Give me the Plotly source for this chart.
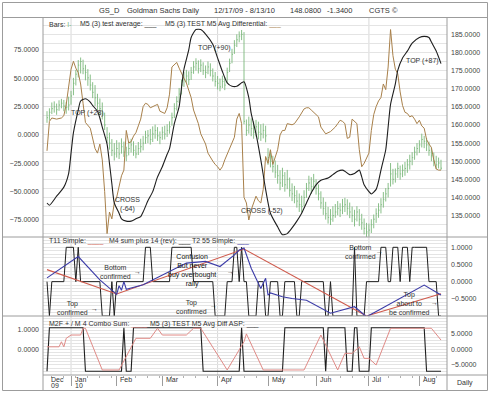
import plotly.graph_objects as go
import pandas as pd

W, H = 490, 393
FONT = "Liberation Sans, Arial, Helvetica, sans-serif"
TXT = "#333333"
GRID = "#e4e4e4"
FRAME = "#9c9c9c"

# ---------------- trading calendar ----------------
HOLIDAYS = ["2009-12-25", "2010-01-01", "2010-01-18", "2010-02-15",
            "2010-04-02", "2010-05-31", "2010-07-05"]
DATES = pd.bdate_range("2009-12-17", "2010-08-13")
DATES = DATES[~DATES.isin(pd.to_datetime(HOLIDAYS))]
DAY = list(range(len(DATES)))

MONTH_LABELS = ["Dec", "Jan", "Feb", "Mar", "Apr", "May", "Jun", "Jul", "Aug"]
YEAR_LABELS = ["09", "10"]

# ---------------- price bars (right axis) ----------------
CLOSE = [
    162.0, 163.5, 164.5, 165.0, 164.2, 165.5, 166.0, 165.2, 164.8, 165.5,
    168.0, 171.5, 174.0, 176.5, 177.5, 175.5, 174.5, 173.0, 171.0, 169.0,
    167.5, 166.0, 164.5, 163.0, 160.0, 156.5, 155.0, 153.0, 152.0, 153.5,
    152.0, 154.0, 152.5, 151.5, 153.5, 154.5, 153.0, 152.0, 153.5, 154.0,
    155.0, 156.5, 157.0, 156.0, 157.5, 158.5, 157.0, 156.5, 158.0, 157.5,
    158.5, 159.5, 162.0, 164.5, 166.5, 168.5, 171.0, 172.5, 173.5, 172.5,
    174.5, 176.0, 177.0, 175.5, 176.5, 175.0, 174.5, 176.0, 175.0, 173.5,
    172.0, 171.5, 170.5, 172.0, 171.0, 174.5, 177.0, 179.5, 182.0, 183.5,
    184.5, 185.0, 161.0, 158.5, 160.0, 159.0, 158.0, 159.5, 158.0, 157.5,
    158.5, 157.0, 151.0, 150.0, 148.5, 147.0, 146.0, 144.0, 146.0, 143.5,
    145.0, 142.0, 141.0, 140.5, 139.0, 138.0, 137.5, 140.0, 142.5, 144.0,
    143.0, 144.5, 142.5, 141.0, 138.5, 137.0, 135.5, 134.5, 134.0, 135.0,
    136.0, 137.0, 136.5, 137.5, 138.0, 137.0, 136.0, 135.0, 134.0, 136.0,
    134.0, 133.0, 131.5, 130.5, 131.0, 132.5, 134.0, 135.5, 136.5, 138.0,
    139.5, 141.0, 142.5, 146.5, 145.0, 146.5, 148.0, 146.5, 147.5, 148.0,
    149.0, 150.0, 151.0, 152.5, 153.5, 154.5, 156.0, 155.5, 154.5, 153.0,
    151.5, 150.0, 149.0, 149.5, 148.08]
HIGH = [
    163.8, 164.6, 166.2, 166.5, 165.9, 166.8, 167.2, 166.9, 166.3, 167.8,
    169.4, 173.0, 175.2, 177.9, 178.6, 178.0, 176.6, 175.4, 173.9, 171.8,
    171.0, 168.6, 167.3, 166.2, 163.4, 159.4, 157.9, 156.1, 155.0, 155.8,
    155.2, 156.3, 155.4, 154.0, 155.6, 156.2, 155.5, 154.4, 155.3, 156.2,
    157.0, 158.4, 158.6, 158.9, 159.6, 160.1, 159.4, 158.2, 159.5, 159.8,
    160.2, 161.0, 163.4, 166.0, 167.9, 170.2, 172.5, 174.6, 175.2, 174.8,
    176.0, 177.6, 178.4, 177.8, 178.1, 177.3, 176.4, 177.5, 177.0, 175.6,
    174.6, 173.5, 172.8, 173.6, 173.2, 175.8, 178.3, 181.0, 183.4, 185.0,
    185.8, 186.2, 185.6, 161.5, 162.3, 161.8, 161.0, 161.4, 160.9, 160.2,
    160.4, 159.8, 153.6, 152.7, 151.5, 150.2, 149.0, 147.5, 148.2, 147.0,
    147.6, 145.5, 143.9, 143.2, 142.0, 141.1, 140.5, 142.0, 144.0, 146.0,
    145.6, 146.5, 145.0, 143.6, 141.7, 140.0, 138.8, 137.4, 136.8, 137.6,
    138.2, 139.0, 138.4, 139.6, 139.9, 139.5, 138.6, 137.5, 136.6, 137.6,
    136.8, 135.5, 134.2, 133.0, 132.8, 134.0, 135.3, 137.0, 138.4, 139.8,
    141.5, 142.6, 144.0, 149.5, 147.9, 148.0, 149.6, 148.8, 149.1, 149.8,
    150.6, 151.8, 152.5, 154.0, 155.0, 155.8, 157.6, 157.0, 156.4, 155.4,
    153.8, 152.4, 151.5, 151.0, 150.4]
LOW = [
    160.6, 161.2, 163.0, 163.4, 162.8, 163.9, 164.6, 163.8, 163.1, 164.0,
    165.6, 168.2, 170.9, 173.1, 174.2, 174.0, 172.3, 170.8, 169.5, 167.4,
    165.2, 164.1, 162.8, 161.5, 158.6, 155.0, 153.2, 151.4, 150.2, 151.0,
    150.6, 152.1, 151.2, 150.0, 151.6, 152.4, 151.5, 150.8, 151.7, 152.4,
    153.0, 154.8, 155.0, 154.6, 155.3, 156.2, 155.6, 154.7, 155.9, 156.0,
    156.7, 157.6, 159.8, 161.9, 164.0, 166.1, 168.4, 170.5, 171.6, 171.0,
    172.4, 174.1, 175.0, 174.2, 174.6, 173.8, 172.9, 174.0, 173.4, 172.0,
    170.6, 169.8, 169.3, 170.2, 169.6, 171.5, 174.6, 177.0, 179.6, 181.5,
    182.8, 183.4, 160.2, 157.0, 157.6, 156.9, 156.2, 156.8, 156.0, 155.6,
    156.3, 155.2, 149.0, 148.3, 146.9, 145.4, 143.8, 142.0, 142.9, 141.6,
    142.3, 140.2, 139.0, 138.4, 137.2, 136.0, 135.8, 137.6, 139.9, 141.8,
    141.0, 142.2, 140.8, 139.2, 136.9, 135.2, 133.9, 132.8, 132.4, 133.3,
    134.4, 135.1, 134.6, 135.4, 136.0, 135.2, 134.3, 133.2, 132.0, 133.4,
    132.1, 131.1, 129.8, 129.0, 129.2, 130.2, 131.5, 133.0, 134.4, 135.6,
    137.2, 138.9, 140.0, 143.0, 143.6, 144.1, 145.4, 144.9, 145.6, 146.0,
    146.8, 147.7, 148.9, 150.4, 151.6, 152.3, 153.8, 153.6, 152.8, 151.5,
    150.0, 148.6, 147.8, 148.0, 147.6]

# ---------------- top panel oscillators (left axis) ----------------
AVG_DAY = [0, 1, 4, 7, 9, 10, 11, 13, 14, 16, 18, 19, 21, 22, 23, 25, 26, 27, 28, 30,
           31, 33, 35, 37, 39, 40, 42, 44, 46, 48, 50, 51, 53, 55, 56, 57, 59, 60, 62, 64,
           66, 69, 71, 73, 75, 77, 79, 81, 82, 84, 85, 87, 89, 91, 93, 96, 98, 100, 102, 104,
           106, 108, 110, 112, 114, 117, 119, 121, 123, 124, 126, 128, 130, 131, 132, 134, 135, 137, 138, 139,
           141, 142, 143, 145, 146, 148, 150, 152, 155, 157, 159, 160, 162, 164]
AVG_VAL = [-60, -62, -54, -46, -34, -16, 2, 22, 30, 32, 29, 26, 21, 15, 7, -8, -25, -43, -60, -69,
           -74, -76, -76, -74, -72, -68, -58, -50, -37, -28, -17, -12, 10, 25, 42, 58, 75, 86, 93, 93,
           89, 80, 68, 56, 46, 43, 43, 46, 47, 33, 19, 1, -22, -48, -69, -81, -88, -87, -82, -76,
           -69, -60, -51, -44, -40, -38, -35, -32, -31, -32, -35, -34, -31, -37, -44, -50, -52, -48, -41, -31,
           -13, 7, 27, 45, 57, 68, 74, 81, 86, 87, 86, 82, 74, 63]

DIFF_DAY = [0, 1, 2, 4, 6, 7, 8, 9, 10, 11, 12, 13, 14, 15, 16, 18, 19, 20, 21, 22,
            23, 24, 25, 26, 27, 28, 29, 30, 31, 32, 33, 34, 35, 36, 37, 38, 39, 40, 41, 42,
            43, 45, 46, 47, 49, 50, 51, 52, 53, 54, 55, 56, 57, 58, 59, 60, 61, 62, 63, 64,
            65, 66, 67, 68, 69, 70, 71, 72, 73, 74, 75, 76, 77, 78, 79, 80, 81, 82, 83, 84,
            85, 86, 87, 88, 89, 90, 91, 92, 93, 94, 95, 96, 97, 98, 99, 100, 102, 103, 105, 107,
            108, 109, 110, 111, 112, 113, 114, 115, 116, 118, 120, 121, 122, 123, 124, 125, 126, 127, 128, 129,
            130, 131, 132, 133, 134, 135, 136, 137, 138, 139, 140, 141, 142, 143, 144, 145, 146, 147, 148, 149,
            150, 151, 152, 153, 154, 155, 156, 157, 158, 159, 160, 161, 162, 163, 164]
DIFF_VAL = [-14, 12, 15, 14, 15, 17, 27, 45, 58, 65, 59, 55, 45, 28, 11, 6, -2, -12, -16, -8,
            -22, -50, -87, -68, -74, -60, -55, -45, -36, -31, 4, -7, -6, -1, 2, 8, 14, 25, 28, 27,
            24, 26, 27, 21, 19, 24, 36, 60, 62, 64, 59, 54, 50, 46, 40, 33, 22, 16, 10, 1,
            -4, -8, -16, -20, -23, -26, -28, -31, -28, -22, -17, -12, -6, -2, 14, 19, 10, -55, -60, -75,
            -66, -60, -54, -58, -60, -48, -19, -25, -13, -26, -20, -13, 0, 4, 4, 10, 9, 10, 16, 23,
            24, 24, 22, 20, 18, 16, 7, 4, 1, 3, 7, 10, 13, 12, 10, -3, -2, 14, 12, 10,
            -13, -28, -25, -20, -16, 4, 18, 25, 30, 33, 45, 40, 60, 93, 70, 58, 54, 38, 26, 20,
            19, 16, 17, 14, 10, 13, 8, 6, -4, -8, -11, -22, -30, -31, -31]

# ---------------- middle panel ----------------
T11_DAY = [0, 29, 82, 133, 164]
T11_VAL = [0.35, -0.36, 0.95, -1.0, -0.35]

M4_SUM = [0, -1, 0, 0, 0, 0, 0, 0, 1, 1, 1, 1, 0, 1, 0, 0, 0, 0, 0, 0,
          0, 0, 0, -1, -1, -1, -1, 0, -1, 0, 0, 0, 0, 0, 0, 0, 0, 0, 0, 0,
          0, 1, 1, 1, 0, 0, 0, 0, 0, 0, 0, 0, 1, 1, 1, 1, 1, 1, 1, 1,
          1, 0, 0, 0, 0, 0, 0, 0, 0, 0, -1, -1, -1, -1, -1, 0, 0, 0, 1, 1,
          0, 1, 0, 0, -1, -1, -1, -1, 0, 0, 0, -1, -1, 0, 0, 0, 0, -1, -1, 0,
          0, 0, 0, 0, -1, -1, 0, 0, 0, 0, 0, 0, 0, 0, 0, 0, -1, -1, 0, -1,
          -1, -1, -1, -1, -1, -1, -1, -1, 1, -1, -1, -1, -1, 0, 0, 0, 0, 0, 0, 1,
          1, 1, 0, 0, 1, 1, 1, 0, 1, 1, 1, 0, 1, 1, 1, 1, 1, 1, 1, 0,
          0, 0, 0, -1, -1]

T2_DAY = [0, 13, 22, 28, 29, 30, 31, 32, 33, 40, 50, 58, 66, 72, 78, 80, 82, 85, 89, 91,
          92, 93, 98, 102, 108, 118, 128, 133, 138, 157, 164]
T2_VAL = [0.11, 0.73, 0.05, -0.33, -0.37, -0.12, -0.25, 0.0, -0.22, -0.09, 0.25, 0.54, 0.59, 0.44, 0.78, 0.92, 0.98, 0.39, -0.2, 0.1,
          -0.39, -0.33, -0.44, -0.49, -0.54, -0.92, -0.73, -1.02, -0.83, -0.1, -0.39]

# ---------------- bottom panel ----------------
COMBO_DAY = [0, 5, 6, 7, 8, 10, 14, 15, 16, 23, 30, 37, 43, 46, 48, 58, 61, 64, 75, 82,
             83, 90, 107, 114, 121, 124, 127, 130, 132, 134, 137, 143, 160, 164]
COMBO_VAL = [0.13, 0.13, 0.39, 0.13, 0.57, 0.74, 0.74, 1.09, 1.09, -1.07, -1.07, 0.57, 0.57, 1.09, 0.74, 0.74, 1.09, 1.09, -1.07, 0.39,
             0.8, -1.07, -1.07, 0.74, -1.07, -0.21, -0.21, 0.13, -0.47, -0.47, -0.81, 1.09, 1.09, 0.48]

ASP = [-7, 7, 7, 7, 7, 7, 7, 7, 7, 7, 7, 7, 7, 7, 7, 7, -7, -7, -7, -7,
       -7, -7, -7, -7, -7, -7, -7, -7, -7, -7, -7, -7, 7, -7, -7, -7, 7, 7, 7, 7,
       7, 7, 7, 7, 7, 7, 7, 7, 7, 7, 7, 7, 7, 7, 7, 7, 7, 7, 7, 7,
       7, 7, 7, 7, 7, -7, -7, -7, -7, -7, -7, -7, -7, -7, -7, -7, -7, -7, -7, -7,
       -7, 7, -7, -7, -7, -7, -7, -7, -7, -7, -7, -7, -7, -7, -7, -7, -7, -7, -7, 7,
       7, 7, 7, 7, 7, 7, 7, 7, 7, 7, 7, 7, 7, 7, 7, 7, -7, 7, 7, 7,
       7, 7, 7, 7, 7, -7, -7, -7, 7, 7, -7, -7, -7, -7, -7, 7, 7, 7, 7, 7,
       7, 7, 7, 7, 7, 7, 7, 7, 7, 7, 7, 7, 7, 7, 7, 7, 7, 7, -7, -7,
       -7, -7, -7, -7, -7]

# ---------------- layout geometry ----------------
def pxx(x):
    return x / W


def pyy(y):
    return 1 - y / H


X_DOM = [pxx(43), pxx(447)]
TOP_DOM = [pyy(237), pyy(18)]
MID_DOM = [pyy(316), pyy(237)]
BOT_DOM = [pyy(375), pyy(316)]
X_RANGE = [-1.67, 166.5]

month_start = [0] + [i for i in range(1, len(DATES)) if DATES[i].month != DATES[i - 1].month]
year_start = [0] + [i for i in range(1, len(DATES)) if DATES[i].year != DATES[i - 1].year]
quarter_lines = [i for i in month_start[1:] if DATES[i].month in (1, 4, 7)]

BAR_GREEN = "#7ab87a"
BROWN = "#a8804a"
BLACK = "#1e1e1e"
RED2 = "#cf5a4c"
BLUE2 = "#3c3ca8"
RED3 = "#e08a86"

fig = go.Figure()

# price bars (I- style: high-low line with close tick to the right)
bx, by = [], []
for i, (h, l, c) in enumerate(zip(HIGH, LOW, CLOSE)):
    bx += [DAY[i], DAY[i], None, DAY[i], DAY[i] + 0.42, None]
    by += [l, h, None, c, c, None]
fig.add_trace(go.Scatter(x=bx, y=by, mode="lines", yaxis="y",
                         line=dict(color=BAR_GREEN, width=0.9), hoverinfo="skip"))

fig.add_trace(go.Scatter(x=DIFF_DAY, y=DIFF_VAL, mode="lines", yaxis="y2",
                         line=dict(color=BROWN, width=1)))
fig.add_trace(go.Scatter(x=AVG_DAY, y=AVG_VAL, mode="lines", yaxis="y2",
                         line=dict(color=BLACK, width=1.1, shape="spline", smoothing=0.6)))

# middle panel
fig.add_trace(go.Scatter(x=DAY[:len(M4_SUM)], y=M4_SUM, mode="lines", yaxis="y3",
                         line=dict(color=BLACK, width=1)))
fig.add_trace(go.Scatter(x=T11_DAY, y=T11_VAL, mode="lines", yaxis="y3",
                         line=dict(color=RED2, width=1.1)))
fig.add_trace(go.Scatter(x=T2_DAY, y=T2_VAL, mode="lines", yaxis="y3",
                         line=dict(color=BLUE2, width=1.1)))

# bottom panel
fig.add_trace(go.Scatter(x=DAY[:len(ASP)], y=ASP, mode="lines", yaxis="y4",
                         line=dict(color=BLACK, width=1.1)))
fig.add_trace(go.Scatter(x=COMBO_DAY, y=COMBO_VAL, mode="lines", yaxis="y5",
                         line=dict(color=RED3, width=1)))

tickfont = dict(family=FONT, size=7, color="#444444")

fig.update_layout(
    width=W, height=H, autosize=False,
    margin=dict(l=0, r=0, t=0, b=0, pad=0),
    paper_bgcolor="white", plot_bgcolor="rgba(0,0,0,0)",
    showlegend=False,
    xaxis=dict(domain=X_DOM, range=X_RANGE, anchor="y4", showgrid=False, zeroline=False,
               showline=False, showticklabels=False,
               tickmode="array", tickvals=month_start[1:], ticks="outside", ticklen=10,
               tickcolor=FRAME, tickwidth=1,
               minor=dict(ticks="outside", ticklen=2, tickmode="linear", tick0=2, dtick=5,
                          tickcolor="#b0b0b0", showgrid=False)),
    yaxis=dict(domain=TOP_DOM, range=[129.1, 189.5], side="right", anchor="x",
               tickmode="array", tickvals=[135, 140, 145, 150, 155, 160, 165, 170, 175, 180, 185],
               tickformat=".4f", showgrid=True, gridcolor=GRID, gridwidth=1, zeroline=False,
               ticks="", tickfont=tickfont, ticklabelstandoff=3,
               minor=dict(tickmode="linear", tick0=0, dtick=2.5, showgrid=True,
                          gridcolor=GRID, ticks="")),
    yaxis2=dict(overlaying="y", side="left", anchor="x", range=[-90.0, 103.2],
                tickmode="array", tickvals=[-75, -50, -25, 0, 25, 50, 75],
                tickformat=".4f", showgrid=False, zeroline=False, ticks="",
                tickfont=tickfont, ticklabelstandoff=3),
    yaxis3=dict(domain=MID_DOM, range=[-1.0, 1.3], side="right", anchor="x",
                tickmode="array", tickvals=[1.0, 0.5, 0.0, -0.5], tickformat=".4f",
                showgrid=True, gridcolor=GRID, zeroline=False, ticks="",
                tickfont=tickfont, ticklabelstandoff=3,
                minor=dict(tickmode="linear", tick0=0, dtick=0.1, showgrid=True,
                           gridcolor=GRID, ticks="")),
    yaxis4=dict(domain=BOT_DOM, range=[-8.23, 10.8], side="right", anchor="x",
                tickmode="array", tickvals=[5, 0, -5], tickformat=".4f",
                showgrid=True, gridcolor=GRID, zeroline=False, ticks="",
                tickfont=tickfont, ticklabelstandoff=3,
                minor=dict(tickmode="linear", tick0=0, dtick=1, showgrid=True,
                           gridcolor=GRID, ticks="")),
    yaxis5=dict(overlaying="y4", side="left", anchor="x", range=[-1.33, 1.725],
                tickmode="array", tickvals=[1.0, 0.0], tickformat=".4f",
                showgrid=False, zeroline=False, ticks="",
                tickfont=tickfont, ticklabelstandoff=3),
)

shapes = []
# quarter vertical lines
for q in quarter_lines:
    shapes.append(dict(type="line", xref="x", yref="paper", x0=q, x1=q,
                       y0=BOT_DOM[0], y1=TOP_DOM[1], layer="below",
                       line=dict(color="#d8d8d8", width=1)))


def hl(y, x0, x1):
    return dict(type="line", xref="paper", yref="paper", x0=pxx(x0), x1=pxx(x1),
                y0=pyy(y), y1=pyy(y), line=dict(color=FRAME, width=1), layer="above")


def vl(x, y0, y1):
    return dict(type="line", xref="paper", yref="paper", x0=pxx(x), x1=pxx(x),
                y0=pyy(y0), y1=pyy(y1), line=dict(color=FRAME, width=1), layer="above")


shapes += [
    dict(type="rect", xref="paper", yref="paper", x0=pxx(2.5), x1=pxx(487.5),
         y0=pyy(390.5), y1=pyy(2.5), line=dict(color=FRAME, width=1), layer="above"),
    hl(17.5, 2.5, 487.5), hl(237, 2.5, 487.5), hl(316, 2.5, 487.5), hl(375, 43, 487.5),
    vl(43, 17.5, 390.5), vl(447, 17.5, 390.5),
]
fig.update_layout(shapes=shapes)

annotations = []


def ann(text, x, y, xanchor="left", size=7, color=TXT, xref="paper", yref="paper", align="left"):
    annotations.append(dict(text=text, x=x, y=y, xref=xref, yref=yref, xanchor=xanchor,
                            yanchor="middle", showarrow=False, align=align,
                            font=dict(family=FONT, size=size, color=color)))


# title
for t, xp in [("GS_D", 97), ("Goldman Sachs Daily", 125), ("12/17/09 - 8/13/10", 212),
              ("148.0800", 288), ("-1.3400", 325), ("CGTS \u00a9", 367)]:
    ann(t, pxx(xp), pyy(10), size=7.5)

# legends
ann("Bars: <span style='color:%s'>I-</span>" % BAR_GREEN, pxx(47), pyy(24.5))
ann("M5 (3) test average: <span style='color:%s'>___</span>" % BLACK, pxx(78), pyy(24.5))
ann("M5 (3) TEST M5 Avg Differential: <span style='color:%s'>___</span>" % BROWN, pxx(163), pyy(24.5))
ann("T11 Simple: <span style='color:%s'>____</span>" % RED2, pxx(47), pyy(240.5))
ann("M4 sum plus 14 (rev): <span style='color:%s'>___</span>" % BLACK, pxx(107), pyy(240.5))
ann("T2 55 Simple: <span style='color:%s'>___</span>" % BLUE2, pxx(190), pyy(240.5))
ann("M2F + / M 4 Combo Sum: <span style='color:%s'>____</span>" % RED3, pxx(47), pyy(323.5))
ann("M5 (3) TEST M5 Avg Diff ASP: <span style='color:%s'>___</span>" % BLACK, pxx(148), pyy(323.5))

# top panel notes
ann("TOP (+28)", 16.7, 19.4, xanchor="center", xref="x", yref="y2")
ann("TOP (+90)", 69.9, 76.8, xanchor="center", xref="x", yref="y2")
ann("CROSS<br>(-64)", 33.7, -60.9, xanchor="center", xref="x", yref="y2", align="center")
ann("CROSS (-52)", 89.5, -67.0, xanchor="center", xref="x", yref="y2")
ann("TOP (+87)", 156.1, 65.3, xanchor="center", xref="x", yref="y2")

# middle panel notes
ann("Top<br>confirmed", 10.8, -0.77, xanchor="center", xref="x", yref="y3", align="center")
ann("\u2192", 19.6, -0.78, xanchor="center", xref="x", yref="y3")
ann("Bottom<br>confirmed", 28.7, 0.28, xanchor="center", xref="x", yref="y3", align="center")
ann("\u2192", 37.5, 0.3, xanchor="center", xref="x", yref="y3")
ann("Top<br>confirmed", 60.0, -0.74, xanchor="center", xref="x", yref="y3", align="center")
ann("\u2192", 69.1, -0.68, xanchor="center", xref="x", yref="y3")
ann("Confusion<br>But never<br>buy overbought<br>rally", 60.4, 0.32, xanchor="center",
    xref="x", yref="y3", align="center", color="#111111")
ann("\u2192", 76.2, 0.3, xanchor="center", xref="x", yref="y3")
ann("Bottom<br>confirmed", 130.3, 0.86, xanchor="center", xref="x", yref="y3", align="center")
ann("\u2192", 138.6, 0.87, xanchor="center", xref="x", yref="y3")
ann("Top<br>about to<br>be confirmed", 150.7, -0.65, xanchor="center", xref="x", yref="y3", align="center")
ann("\u2192", 161.1, -0.62, xanchor="center", xref="x", yref="y3")

# date labels
for lab, i in zip(MONTH_LABELS, month_start):
    annotations.append(dict(text=lab, x=i, y=pyy(379.5), xref="x", yref="paper",
                            xanchor="left", yanchor="middle", xshift=1.5, showarrow=False,
                            font=dict(family=FONT, size=7, color=TXT)))
for lab, i in zip(YEAR_LABELS, year_start):
    annotations.append(dict(text=lab, x=i, y=pyy(385.5), xref="x", yref="paper",
                            xanchor="left", yanchor="middle", xshift=1.5, showarrow=False,
                            font=dict(family=FONT, size=7, color=TXT)))
ann("Daily", pxx(465), pyy(382.5), xanchor="center")

fig.update_layout(annotations=annotations)

fig.write_html("out.html", config={"displayModeBar": False},
               post_script="document.body.style.margin='0';document.body.style.overflow='hidden';")
